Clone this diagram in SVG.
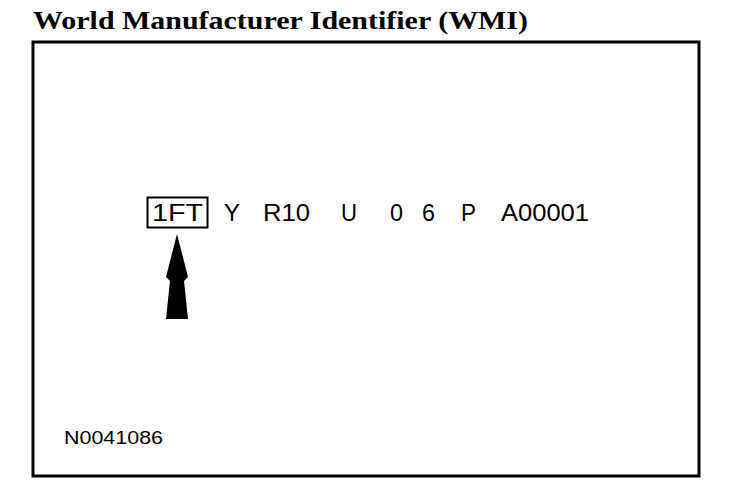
<svg xmlns="http://www.w3.org/2000/svg" width="736" height="498" viewBox="0 0 736 498">
<style>
.t{font-family:"Liberation Sans",Arial,sans-serif;fill:#000}
.v{font-size:23px}
</style>
<rect width="736" height="498" fill="#fff"/>
<text x="33" y="29" font-family="'Liberation Serif','Times New Roman',serif" font-weight="bold" font-size="26" textLength="495" lengthAdjust="spacingAndGlyphs">World Manufacturer Identifier (WMI)</text>
<rect id="frame" x="33" y="42" width="666" height="434" fill="none" stroke="#000" stroke-width="3"/>
<g id="vin">
<rect x="147.5" y="197.5" width="60" height="30" fill="none" stroke="#000" stroke-width="2"/>
<text class="t v" x="152" y="221" textLength="51" lengthAdjust="spacingAndGlyphs">1FT</text>
<text class="t v" x="224" y="221" textLength="16" lengthAdjust="spacingAndGlyphs">Y</text>
<text class="t v" x="263" y="221" textLength="47" lengthAdjust="spacingAndGlyphs">R10</text>
<text class="t v" x="341" y="221" textLength="16" lengthAdjust="spacingAndGlyphs">U</text>
<text class="t v" x="390" y="221" textLength="13" lengthAdjust="spacingAndGlyphs">0</text>
<text class="t v" x="422" y="221" textLength="13" lengthAdjust="spacingAndGlyphs">6</text>
<text class="t v" x="461" y="221" textLength="15" lengthAdjust="spacingAndGlyphs">P</text>
<text class="t v" x="501" y="221" textLength="88" lengthAdjust="spacingAndGlyphs">A00001</text>
</g>
<g id="arrow">
<polygon points="177,234 188,277 184,281 188,319 166,319 170,281 166,277" fill="#000"/>
</g>
<text class="t" x="64" y="444" font-size="19" textLength="99" lengthAdjust="spacingAndGlyphs">N0041086</text>
</svg>
